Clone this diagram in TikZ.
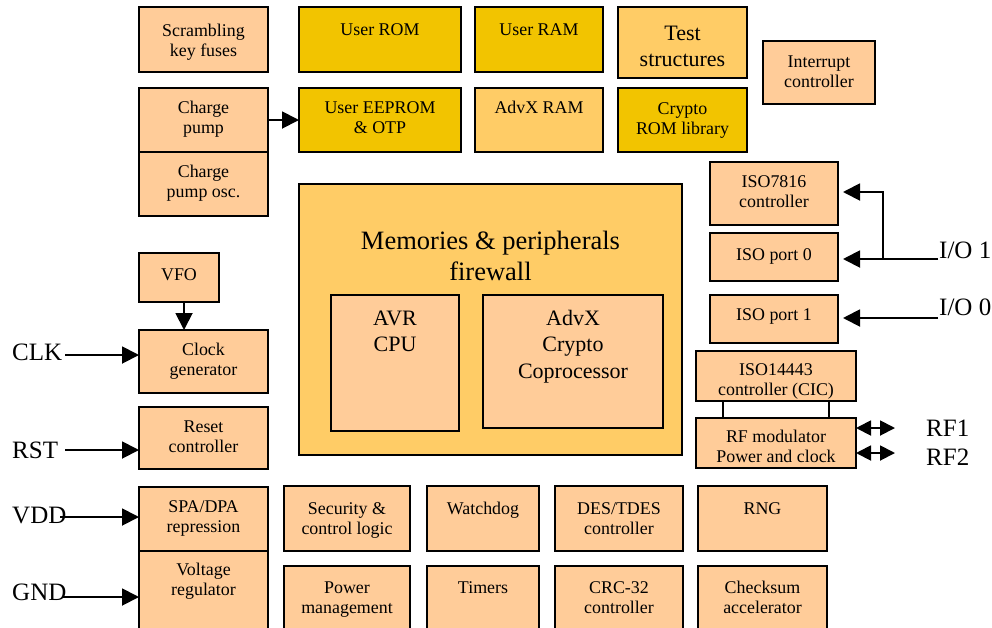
\documentclass[tikz,border=0pt]{standalone}
\usepackage{fontspec}
\setmainfont{Liberation Serif}
\usetikzlibrary{arrows.meta}
\definecolor{peach}{HTML}{FFCC99}
\definecolor{gold}{HTML}{F2C400}
\definecolor{light}{HTML}{FFCC66}
\newcommand\fbody{\fontsize{17.9}{20.5}\selectfont}
\newcommand\fmid{\fontsize{22}{26.5}\selectfont}
\newcommand\fbig{\fontsize{26.5}{31}\selectfont}
\newcommand\flab{\fontsize{25}{30}\selectfont}
% name, x1, y1, x2, y2, fill, font, first-baseline offset, text
\newcommand\blk[9]{%
  \node[blkbox, fill=#6] (#1) at ({(#2+#4)/2},{(#3+#5)/2})
    {\parbox[c][\dimexpr#5pt-#3pt\relax][t]{\dimexpr#4pt-#2pt\relax}{\centering#7\rule{0pt}{#8pt}#9\par}};%
}
\tikzset{
  blkbox/.style={draw=black, line width=1.9pt, inner sep=0pt, outer sep=0pt},
  arr/.style={line width=1.9pt, -{Triangle[length=17pt,width=17pt]}},
  dblarr/.style={line width=1.9pt, {Triangle[length=15pt,width=15pt]}-{Triangle[length=15pt,width=15pt]}},
  wire/.style={line width=1.9pt},
  pinlabel/.style={font=\flab, inner sep=0pt, anchor=base west},
}
\begin{document}
\begin{tikzpicture}[x=1pt,y=-1pt]
\useasboundingbox (0,0) rectangle (992,627);
\clip (0,0) rectangle (992,627);
\fill[white] (0,0) rectangle (992,627);

% top rows
\blk{scramble}{139}{7}{268}{72}{peach}{\fbody}{29}{Scrambling\\key fuses}
\blk{userrom}{299}{7}{461}{72}{gold}{\fbody}{28}{User ROM}
\blk{userram}{475}{7}{603}{72}{gold}{\fbody}{28}{User RAM}
\blk{test}{618}{7}{747}{78}{light}{\fmid}{33}{Test\\structures}
\blk{interrupt}{763}{41}{875}{104}{peach}{\fbody}{26}{Interrupt\\controller}
\blk{chargepump}{139}{88}{268}{152}{peach}{\fbody}{25}{Charge\\pump}
\blk{eeprom}{299}{88}{461}{152}{gold}{\fbody}{25}{User EEPROM\\\& OTP}
\blk{advxram}{475}{88}{603}{152}{light}{\fbody}{25}{AdvX RAM}
\blk{cryptorom}{618}{88}{747}{152}{gold}{\fbody}{26}{Crypto\\ROM library}
\blk{chargeosc}{139}{152}{268}{216}{peach}{\fbody}{25}{Charge\\pump osc.}

% firewall block
\blk{firewall}{299}{184}{682}{455}{light}{\fbig}{65}{Memories \& peripherals\\firewall}
\blk{avr}{331}{295}{459}{431}{peach}{\fmid}{30}{AVR\\CPU}
\blk{advx}{483}{295}{663}{428}{peach}{\fmid}{30}{AdvX\\Crypto\\Coprocessor}

% right column
\blk{iso7816}{710}{162}{838}{225}{peach}{\fbody}{25}{ISO7816\\controller}
\blk{isoport0}{710}{233}{838}{281}{peach}{\fbody}{27}{ISO port 0}
\blk{isoport1}{710}{295}{838}{343}{peach}{\fbody}{25}{ISO port 1}
\blk{iso14443}{696}{351}{856}{401}{peach}{\fbody}{24}{ISO14443\\controller (CIC)}
\blk{rfmod}{696}{418}{856}{468}{peach}{\fbody}{24}{RF modulator\\Power and clock}

% left column
\blk{vfo}{139}{253}{219}{302}{peach}{\fbody}{27}{VFO}
\blk{clockgen}{139}{330}{268}{393}{peach}{\fbody}{25}{Clock\\generator}
\blk{reset}{139}{407}{268}{469}{peach}{\fbody}{25}{Reset\\controller}
\blk{spadpa}{139}{487}{268}{551}{peach}{\fbody}{25}{SPA/DPA\\repression}
\blk{voltreg}{139}{551}{268}{640}{peach}{\fbody}{24}{Voltage\\regulator}

% bottom rows
\blk{security}{284}{486}{410}{551}{peach}{\fbody}{28}{Security \&\\control logic}
\blk{watchdog}{427}{486}{539}{551}{peach}{\fbody}{28}{Watchdog}
\blk{destdes}{555}{486}{683}{551}{peach}{\fbody}{28}{DES/TDES\\controller}
\blk{rng}{698}{486}{827}{551}{peach}{\fbody}{28}{RNG}
\blk{powermgmt}{284}{566}{410}{640}{peach}{\fbody}{27}{Power\\management}
\blk{timers}{427}{566}{539}{640}{peach}{\fbody}{27}{Timers}
\blk{crc}{555}{566}{683}{640}{peach}{\fbody}{27}{CRC-32\\controller}
\blk{checksum}{698}{566}{827}{640}{peach}{\fbody}{27}{Checksum\\accelerator}

% internal connectors
\draw[arr] (chargepump) -- (eeprom);
\coordinate (vfoout) at ([xshift=5pt]vfo.south);
\draw[arr] (vfoout) -- (vfoout |- clockgen.north);
\draw[wire] ([xshift=27pt]iso14443.south west) -- ([xshift=27pt]rfmod.north west);
\draw[wire] ([xshift=133pt]iso14443.south west) -- ([xshift=133pt]rfmod.north west);

% pin labels
\node[pinlabel] (clk) at (12,360) {CLK};
\node[pinlabel] (rst) at (12,458) {RST};
\node[pinlabel] (vdd) at (12,523) {VDD};
\node[pinlabel] (gnd) at (12,600) {GND};
\node[pinlabel] (io1) at (939,258) {I/O 1};
\node[pinlabel] (io0) at (939,315) {I/O 0};
\node[pinlabel] (rf1) at (926,436) {RF1};
\node[pinlabel] (rf2) at (926,465) {RF2};

\coordinate (clkin) at (65,355);
\coordinate (rstin) at (65,450);
\coordinate (vddin) at (60,517);
\coordinate (gndin) at (62,597);
\draw[arr] (clkin) -- (clkin -| clockgen.west);
\draw[arr] (rstin) -- (rstin -| reset.west);
\draw[arr] (vddin) -- (vddin -| spadpa.west);
\draw[arr] (gndin) -- (gndin -| voltreg.west);

\coordinate (io1in) at (938,259);
\coordinate (io1br) at (883,259);
\coordinate (io1top) at (883,192);
\coordinate (io0in) at (938,318);
\draw[arr, shorten >=5pt] (io1in) -- (io1in -| isoport0.east);
\draw[arr, shorten >=5pt] (io1br) -- (io1top) -- (io1top -| iso7816.east);
\draw[arr, shorten >=5pt] (io0in) -- (io0in -| isoport1.east);

\coordinate (rf1end) at (895,428);
\coordinate (rf2end) at (895,453);
\draw[dblarr] (rf1end -| rfmod.east) -- (rf1end);
\draw[dblarr] (rf2end -| rfmod.east) -- (rf2end);
\end{tikzpicture}
\end{document}
